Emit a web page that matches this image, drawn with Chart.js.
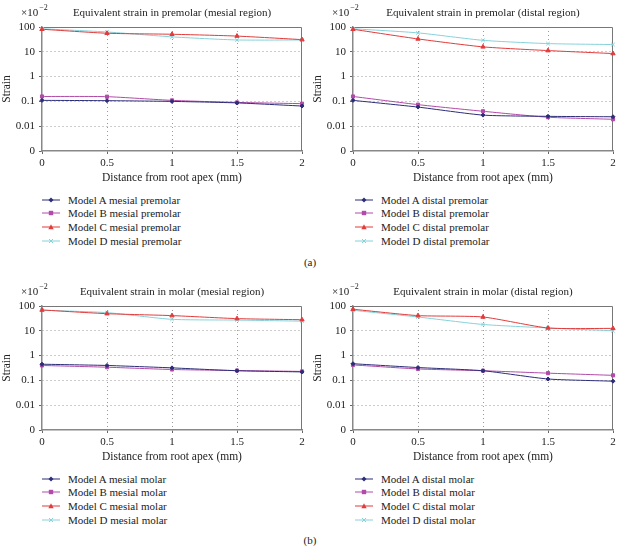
<!DOCTYPE html>
<html>
<head>
<meta charset="utf-8">
<script src="https://cdn.jsdelivr.net/npm/chart.js@4"></script>
<style>
  body { margin:0; background:#fff; width:620px; height:547px; position:relative; overflow:hidden;
         font-family:"Liberation Serif", serif; color:#222; }
  .panel { position:absolute; width:310px; height:185px; }
  .legend { position:absolute; font-size:11px; }
  .legend div { height:13.6px; display:flex; align-items:center; white-space:nowrap; }
  .legend svg { margin-right:8px; }
  .tag { position:absolute; font-size:11px; transform:translate(-50%,-50%); }
</style>
</head>
<body>
<div class="panel" style="left:0;top:0"><canvas id="c1"></canvas></div>
<div class="panel" style="left:311px;top:0"><canvas id="c2"></canvas></div>
<div class="panel" style="left:0;top:279px"><canvas id="c3"></canvas></div>
<div class="panel" style="left:311px;top:279px"><canvas id="c4"></canvas></div>
<div class="legend" id="l1" style="left:42px;top:193px"></div>
<div class="legend" id="l2" style="left:355px;top:193px"></div>
<div class="legend" id="l3" style="left:42px;top:472px"></div>
<div class="legend" id="l4" style="left:355px;top:472px"></div>
<div class="tag" style="left:310px;top:262px">(a)</div>
<div class="tag" style="left:310px;top:540px">(b)</div>
<script>
// x positions (mm from root apex) and y ticks (x10^-2)
const distances = ['0', '0.5', '1', '1.5', '2'];
const yTicks = [0.001, 0.01, 0.1, 1, 10, 100];

const premolarMesialA = [0.11, 0.107, 0.1, 0.087, 0.065];
const premolarMesialB = [0.158, 0.155, 0.11, 0.091, 0.081];
const premolarMesialC = [81, 56, 51, 43, 31];
const premolarMesialD = [85, 63, 40, 30, 30];

const premolarDistalA = [0.11, 0.059, 0.028, 0.025, 0.024];
const premolarDistalB = [0.158, 0.074, 0.04, 0.023, 0.019];
const premolarDistalC = [81, 33, 15.8, 11.2, 8.5];
const premolarDistalD = [85, 58, 29, 21.4, 19.6];

const molarMesialA = [0.45, 0.4, 0.32, 0.245, 0.22];
const molarMesialB = [0.4, 0.34, 0.275, 0.25, 0.23];
const molarMesialC = [69, 49, 41, 31, 28];
const molarMesialD = [68, 54, 29, 27, 24.5];

const molarDistalA = [0.47, 0.33, 0.245, 0.114, 0.093];
const molarDistalB = [0.42, 0.29, 0.245, 0.196, 0.16];
const molarDistalC = [74, 41, 36, 13, 12.5];
const molarDistalD = [67, 36, 18, 13, 10];

const models = [
  { name: 'Model A', color: '#2c2d78', marker: 'rectRot', r: 2 },
  { name: 'Model B', color: '#b24aa8', marker: 'rect', r: 2.2 },
  { name: 'Model C', color: '#e23b3b', marker: 'triangle', r: 2.5 },
  { name: 'Model D', color: '#86d2da', marker: 'crossRot', r: 2.5 }
];

const FONT = '"Liberation Serif", serif';
Chart.defaults.font.family = FONT;
Chart.defaults.color = '#222';
const hideEnds = n => c => (c.index === 0 || c.index === n - 1) ? 'rgba(0,0,0,0)' : '#9a9a9a';

// frame on top/right + title + multiplier
const decor = {
  id: 'decor',
  beforeDatasetsDraw(chart, args, opts) {
    const { ctx, chartArea: a } = chart;
    ctx.save();
    ctx.strokeStyle = '#777';
    ctx.lineWidth = 1;
    ctx.beginPath();
    ctx.moveTo(a.left, a.top + 0.5);
    ctx.lineTo(a.right - 0.5, a.top + 0.5);
    ctx.lineTo(a.right - 0.5, a.bottom);
    ctx.stroke();
    ctx.restore();
  },
  afterDraw(chart, args, opts) {
    const { ctx, chartArea: a } = chart;
    ctx.save();
    ctx.fillStyle = '#222';
    ctx.textBaseline = 'middle';
    ctx.font = '11px ' + FONT;
    ctx.textAlign = 'center';
    ctx.fillText(opts.title, (a.left + a.right) / 2, a.top - 14);
    ctx.textAlign = 'left';
    ctx.fillText('\u00d710', 21, a.top - 14);
    const w = ctx.measureText('\u00d710').width;
    ctx.font = '8px ' + FONT;
    ctx.fillText('\u22122', 21 + w + 1, a.top - 19);
    ctx.restore();
  }
};

function makeChart(id, legendId, title, suffix, series) {
  const datasets = models.map((m, i) => ({
    label: m.name + ' ' + suffix,
    data: series[i],
    borderColor: m.color,
    backgroundColor: m.color,
    borderWidth: 1,
    pointStyle: m.marker,
    pointRadius: m.r,
    pointBorderWidth: 1,
    tension: 0.2
  }));

  new Chart(document.getElementById(id), {
    type: 'line',
    data: { labels: distances, datasets },
    options: {
      responsive: true,
      maintainAspectRatio: false,
      animation: false,
      layout: { padding: { top: 27, right: 8, left: 0, bottom: 0 } },
      plugins: { legend: { display: false }, tooltip: { enabled: false }, decor: { title } },
      scales: {
        x: {
          type: 'category',
          offset: false,
          afterFit: s => { s.height = 34; },
          ticks: { font: { family: FONT, size: 11 }, color: '#222', padding: 3, maxRotation: 0 },
          grid: { color: hideEnds(distances.length), drawTicks: true, tickLength: 3, tickColor: '#666' },
          border: { color: '#888', width: 1.5, dash: [1, 3] },
          title: { display: true, text: 'Distance from root apex (mm)', color: '#222',
                   font: { family: FONT, size: 11.5 }, padding: { top: 2, bottom: 0 } }
        },
        y: {
          type: 'logarithmic',
          min: 0.001,
          max: 100,
          afterBuildTicks: s => { s.ticks = yTicks.map(v => ({ value: v })); },
          afterFit: s => { s.width = 42; },
          ticks: { font: { family: FONT, size: 11 }, color: '#222', padding: 4,
                   callback: v => v === 0.001 ? '0' : String(v) },
          grid: { color: hideEnds(yTicks.length), drawTicks: true, tickLength: 3, tickColor: '#666' },
          border: { color: '#888', width: 1.5, dash: [1, 3] },
          title: { display: true, text: 'Strain', color: '#222',
                   font: { family: FONT, size: 11.5 }, padding: 0 }
        }
      }
    },
    plugins: [decor]
  });

  // legend in a column under the plot
  const box = document.getElementById(legendId);
  datasets.forEach((d, i) => {
    const m = models[i];
    const c = m.color;
    let mk = '';
    if (m.marker === 'rectRot') mk = `<polygon points="9,2.5 11.5,5 9,7.5 6.5,5" fill="${c}"/>`;
    if (m.marker === 'rect') mk = `<rect x="6.8" y="2.8" width="4.4" height="4.4" fill="${c}"/>`;
    if (m.marker === 'triangle') mk = `<polygon points="9,2.3 11.7,7.3 6.3,7.3" fill="${c}"/>`;
    if (m.marker === 'crossRot') mk = `<path d="M7 3L11 7M11 3L7 7" stroke="${c}" stroke-width="1"/>`;
    const row = document.createElement('div');
    row.innerHTML = `<svg width="18" height="10"><line x1="0" y1="5" x2="18" y2="5" stroke="${c}" stroke-width="1"/>${mk}</svg>` + d.label;
    box.appendChild(row);
  });
}

makeChart('c1', 'l1', 'Equivalent strain in premolar (mesial region)', 'mesial premolar',
  [premolarMesialA, premolarMesialB, premolarMesialC, premolarMesialD]);
makeChart('c2', 'l2', 'Equivalent strain in premolar (distal region)', 'distal premolar',
  [premolarDistalA, premolarDistalB, premolarDistalC, premolarDistalD]);
makeChart('c3', 'l3', 'Equivalent strain in molar (mesial region)', 'mesial molar',
  [molarMesialA, molarMesialB, molarMesialC, molarMesialD]);
makeChart('c4', 'l4', 'Equivalent strain in molar (distal region)', 'distal molar',
  [molarDistalA, molarDistalB, molarDistalC, molarDistalD]);
</script>
</body>
</html>
